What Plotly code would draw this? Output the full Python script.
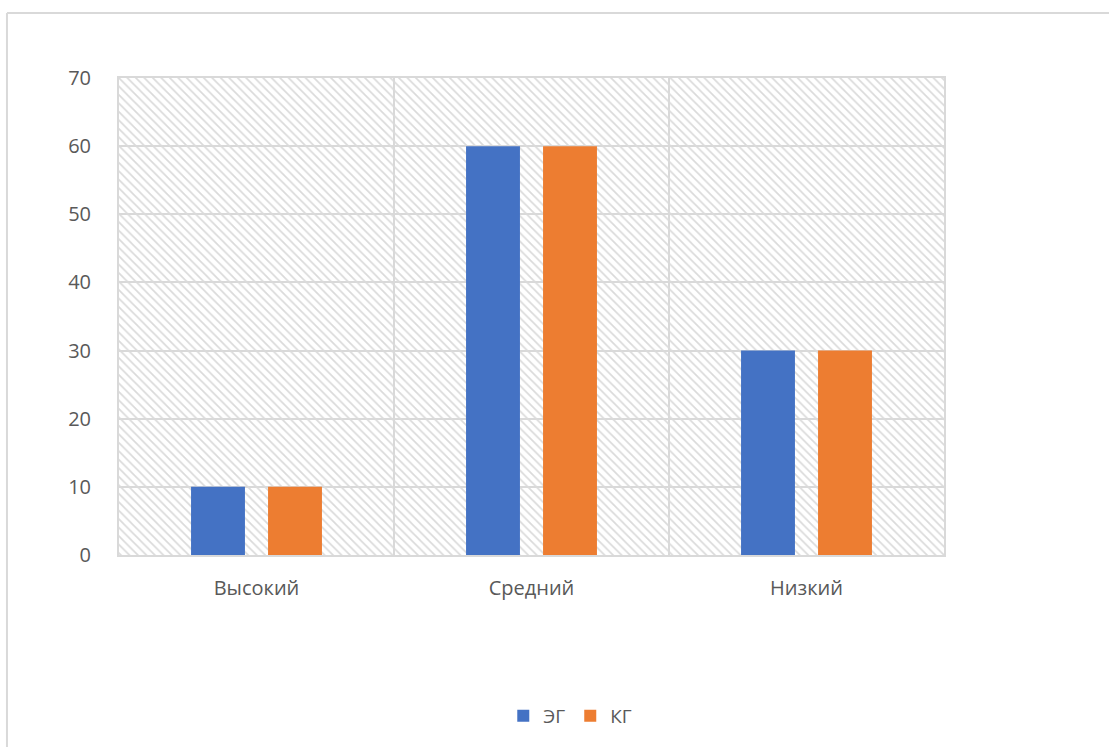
import plotly.graph_objects as go

categories = ["Высокий", "Средний", "Низкий"]
eg_values = [10, 60, 30]
kg_values = [10, 60, 30]
series_names = ["ЭГ", "КГ"]
y_ticks = [0, 10, 20, 30, 40, 50, 60, 70]

BLUE = "#4472C4"
ORANGE = "#ED7D31"
GRID = "#d9d9d9"
TEXT = "#595959"
FONT = "Open Sans, Noto Sans, sans-serif"

fig = go.Figure()

# hatched plot-area background (on hidden numeric axis x)
fig.add_trace(go.Bar(
    x=[0.5], y=[max(y_ticks)], width=[1], base=[0],
    xaxis="x", yaxis="y",
    marker=dict(color="rgba(0,0,0,0)", line=dict(width=0),
                pattern=dict(shape="\\", fgcolor="#dadada", bgcolor="rgba(0,0,0,0)",
                             size=6, solidity=0.28, fillmode="replace")),
    showlegend=False, hoverinfo="skip",
))

fig.add_trace(go.Bar(x=categories, y=eg_values, name=series_names[0],
                     marker=dict(color=BLUE, line=dict(width=0)), xaxis="x2", yaxis="y"))
fig.add_trace(go.Bar(x=categories, y=kg_values, name=series_names[1],
                     marker=dict(color=ORANGE, line=dict(width=0)), xaxis="x2", yaxis="y"))

fig.update_layout(
    width=1109, height=747,
    margin=dict(l=119, r=165, t=78, b=192),
    paper_bgcolor="white", plot_bgcolor="white",
    barmode="group", bargap=0.44, bargroupgap=0.3,
    font=dict(family=FONT, color=TEXT, size=20),
    xaxis=dict(range=[0, 1], visible=False, showgrid=False, fixedrange=True),
    xaxis2=dict(overlaying="x", type="category", tickson="boundaries",
                showgrid=True, gridcolor=GRID, gridwidth=2,
                showline=True, linecolor=GRID, linewidth=2, mirror=True,
                ticks="", ticklabelstandoff=14, tickfont=dict(size=20, color=TEXT),
                side="bottom", anchor="y"),
    yaxis=dict(range=[0, 70], tickvals=y_ticks, showgrid=True, gridcolor=GRID, gridwidth=2,
               showline=True, linecolor=GRID, linewidth=2, mirror=True,
               zeroline=False, ticks="", ticklabelstandoff=22,
               tickfont=dict(size=20, color=TEXT)),
    legend=dict(orientation="h", x=0.547, xanchor="center", y=-0.3375, yanchor="middle",
                font=dict(size=19, color=TEXT), traceorder="normal"),
    shapes=[
        dict(type="line", xref="paper", yref="paper", x0=-0.1358, x1=1.2, y0=1.1363, y1=1.1363,
             line=dict(color="#d9d9d9", width=2)),
        dict(type="line", xref="paper", yref="paper", x0=-0.1358, x1=-0.1358, y0=-0.41, y1=1.1363,
             line=dict(color="#d9d9d9", width=2)),
    ],
)

fig.write_html("out.html")
